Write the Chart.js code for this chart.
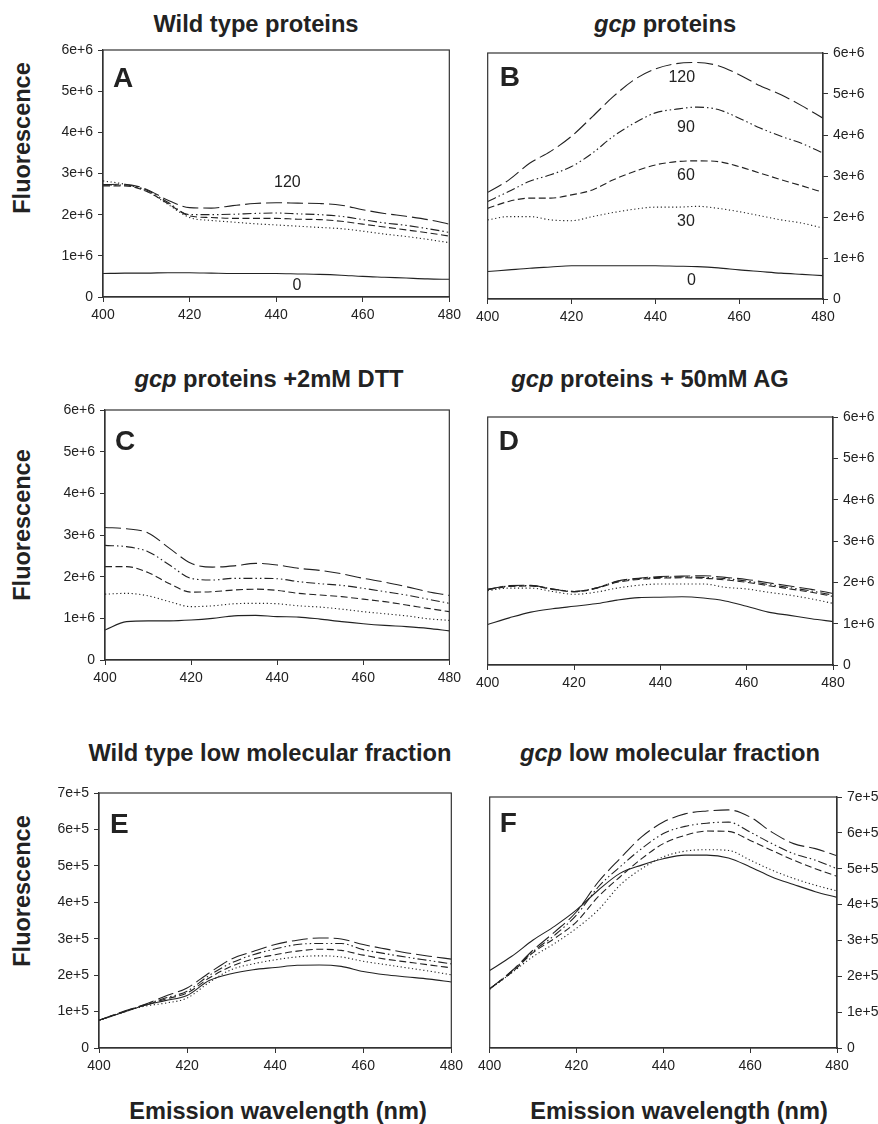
<!DOCTYPE html>
<html><head><meta charset="utf-8">
<script src="https://cdn.jsdelivr.net/npm/chart.js@4/dist/chart.umd.min.js"></script>
<style>
html,body{margin:0;padding:0;background:#fff;width:878px;height:1124px;overflow:hidden;position:relative;font-family:"Liberation Sans",Arial,sans-serif;color:#222}
.t{position:absolute;font-weight:bold;font-size:23.7px;line-height:1;white-space:nowrap;transform:translate(-50%,-50%)}
.yl{position:absolute;font-weight:bold;font-size:23.5px;line-height:1;white-space:nowrap;transform:translate(-50%,-50%) rotate(-90deg)}
.xl{position:absolute;font-weight:bold;font-size:23.6px;line-height:1;white-space:nowrap;transform:translate(-50%,-50%)}
canvas{position:absolute}
</style>
</head><body>
<div class="t" style="left:256px;top:25px">Wild type proteins</div>
<div class="t" style="left:665px;top:25px"><i>gcp</i> proteins</div>
<div class="t" style="left:269px;top:380px"><i>gcp</i> proteins +2mM DTT</div>
<div class="t" style="left:650px;top:380px"><i>gcp</i> proteins + 50mM AG</div>
<div class="t" style="left:270px;top:754px">Wild type low molecular fraction</div>
<div class="t" style="left:670px;top:754px"><i>gcp</i> low molecular fraction</div>
<div class="yl" style="left:23px;top:138px">Fluorescence</div>
<div class="yl" style="left:23px;top:525px">Fluorescence</div>
<div class="yl" style="left:23px;top:891px">Fluorescence</div>
<div class="xl" style="left:278px;top:1112px">Emission wavelength (nm)</div>
<div class="xl" style="left:679px;top:1112px">Emission wavelength (nm)</div>
<canvas id="cA"></canvas><canvas id="cB"></canvas><canvas id="cC"></canvas>
<canvas id="cD"></canvas><canvas id="cE"></canvas><canvas id="cF"></canvas>
<script>
// ---- DATA ----
const wavelengths = [400,405,410,415,420,425,430,435,440,445,450,455,460,465,470,475,480];
const seriesNames = ['0','30','60','90','120'];
const xTickLabels = ['400','420','440','460','480'];
const yTickLabels6 = ['0','1e+6','2e+6','3e+6','4e+6','5e+6','6e+6'];
const yTickLabels7 = ['0','1e+5','2e+5','3e+5','4e+5','5e+5','6e+5','7e+5'];

// Panel A (x1e6)
const A0   = [0.57,0.58,0.58,0.59,0.59,0.58,0.57,0.57,0.57,0.56,0.55,0.53,0.50,0.48,0.46,0.44,0.43];
const A30  = [2.82,2.74,2.58,2.25,1.93,1.86,1.82,1.78,1.75,1.72,1.69,1.66,1.60,1.53,1.47,1.40,1.32];
const A60  = [2.70,2.70,2.57,2.27,1.97,1.93,1.91,1.91,1.91,1.89,1.88,1.84,1.77,1.70,1.63,1.56,1.48];
const A90  = [2.72,2.72,2.60,2.30,2.00,2.00,2.01,2.03,2.04,2.02,2.00,1.96,1.88,1.80,1.74,1.66,1.57];
const A120 = [2.73,2.74,2.62,2.35,2.17,2.16,2.22,2.27,2.29,2.28,2.27,2.23,2.12,2.03,1.96,1.88,1.77];
// Panel B (x1e6)
const B0   = [0.67,0.71,0.75,0.78,0.81,0.81,0.81,0.81,0.81,0.80,0.79,0.76,0.71,0.67,0.63,0.60,0.57];
const B30  = [1.93,2.01,2.01,1.93,1.91,2.01,2.11,2.19,2.24,2.24,2.26,2.21,2.13,2.03,1.93,1.85,1.73];
const B60  = [2.21,2.38,2.46,2.46,2.54,2.66,2.91,3.11,3.27,3.35,3.37,3.35,3.23,3.07,2.91,2.76,2.60];
const B90  = [2.38,2.62,2.87,3.03,3.23,3.56,3.97,4.29,4.54,4.63,4.68,4.62,4.41,4.17,3.97,3.79,3.56];
const B120 = [2.60,2.90,3.31,3.60,3.97,4.45,4.94,5.35,5.61,5.74,5.77,5.69,5.47,5.20,4.98,4.71,4.41];
// Panel C (x1e6)
const C0   = [0.72,0.92,0.94,0.94,0.96,1.00,1.06,1.07,1.04,1.03,0.98,0.92,0.87,0.83,0.80,0.76,0.70];
const C30  = [1.58,1.60,1.54,1.40,1.28,1.30,1.35,1.36,1.35,1.30,1.27,1.22,1.16,1.11,1.06,0.99,0.95];
const C60  = [2.24,2.24,2.10,1.83,1.63,1.64,1.68,1.70,1.67,1.60,1.56,1.52,1.46,1.40,1.32,1.24,1.16];
const C90  = [2.75,2.72,2.60,2.28,1.96,1.92,1.96,1.96,1.95,1.88,1.83,1.79,1.72,1.64,1.56,1.46,1.36];
const C120 = [3.18,3.15,3.05,2.68,2.32,2.23,2.26,2.32,2.28,2.20,2.15,2.07,1.96,1.87,1.76,1.64,1.55];
// Panel D (x1e6)
const D0   = [0.98,1.14,1.28,1.36,1.42,1.48,1.57,1.63,1.64,1.65,1.62,1.55,1.42,1.28,1.20,1.12,1.05];
const D30  = [1.80,1.86,1.86,1.78,1.71,1.76,1.86,1.93,1.96,1.96,1.96,1.88,1.84,1.76,1.69,1.60,1.49];
const D60  = [1.82,1.90,1.91,1.83,1.77,1.85,2.00,2.07,2.10,2.11,2.10,2.06,2.00,1.92,1.84,1.76,1.66];
const D90  = [1.83,1.91,1.92,1.84,1.78,1.86,2.02,2.09,2.12,2.13,2.12,2.09,2.03,1.95,1.87,1.79,1.69];
const D120 = [1.83,1.92,1.93,1.84,1.78,1.86,2.03,2.10,2.14,2.15,2.16,2.12,2.07,1.99,1.91,1.83,1.73];
// Panel E (x1e5)
const E0   = [0.76,0.96,1.16,1.30,1.44,1.85,2.04,2.15,2.21,2.27,2.28,2.24,2.10,2.01,1.95,1.89,1.81];
const E30  = [0.76,0.96,1.14,1.23,1.37,1.80,2.15,2.31,2.42,2.50,2.53,2.50,2.38,2.29,2.20,2.11,2.01];
const E60  = [0.76,0.97,1.16,1.34,1.51,1.92,2.24,2.44,2.56,2.66,2.71,2.68,2.55,2.44,2.36,2.28,2.20];
const E90  = [0.76,0.97,1.17,1.37,1.56,1.99,2.33,2.56,2.72,2.84,2.87,2.87,2.70,2.59,2.49,2.40,2.31];
const E120 = [0.76,0.98,1.18,1.42,1.65,2.06,2.44,2.65,2.84,2.96,3.02,2.99,2.84,2.72,2.61,2.52,2.44];
// Panel F (x1e5)
const F0   = [2.16,2.55,3.01,3.40,3.85,4.40,4.87,5.10,5.28,5.38,5.38,5.30,5.05,4.77,4.56,4.36,4.20];
const F30  = [1.64,2.09,2.55,2.92,3.34,3.85,4.54,5.00,5.33,5.49,5.53,5.51,5.24,4.96,4.73,4.54,4.38];
const F60  = [1.65,2.10,2.66,3.06,3.52,4.22,4.77,5.28,5.70,5.93,6.05,6.04,5.79,5.51,5.24,5.00,4.79];
const F90  = [1.65,2.13,2.69,3.15,3.71,4.49,5.05,5.56,5.98,6.18,6.27,6.30,6.02,5.70,5.42,5.24,5.00];
const F120 = [1.65,2.14,2.73,3.24,3.80,4.63,5.28,5.89,6.30,6.53,6.61,6.64,6.44,6.02,5.70,5.56,5.36];

// inline labels (text, wavelength, value)
const labelsAText = ['120','0'];
const labelsAX = [442.6,444.8];
const labelsAY = [2.77,0.27];
const labelsBText = ['120','90','60','30','0'];
const labelsBX = [446.3,447.3,447.3,447.3,448.6];
const labelsBY = [5.39,4.17,3.00,1.88,0.46];

// ---- STYLE / LAYOUT ----
const dashStyles = [[], [1.2,2.6], [7,3.5], [9,3,1.5,3,1.5,3], [16,5]];
const FONT = '"Liberation Sans", Arial, sans-serif';
const INK = '#222';

const panels = [
  {id:'cA', letter:'A', plot:[103,50,451,297], side:'left', ymax:6, yl:yTickLabels6, series:[A0,A30,A60,A90,A120], lt:labelsAText, lx:labelsAX, ly:labelsAY, ld:[10,17]},
  {id:'cB', letter:'B', plot:[486,53,823,299], side:'right', ymax:6, yl:yTickLabels6, series:[B0,B30,B60,B90,B120], lt:labelsBText, lx:labelsBX, ly:labelsBY, ld:[12,13]},
  {id:'cC', letter:'C', plot:[105,410,451,660], side:'left', ymax:6, yl:yTickLabels6, series:[C0,C30,C60,C90,C120], ld:[10,20]},
  {id:'cD', letter:'D', plot:[486,417,833,665], side:'right', ymax:6, yl:yTickLabels6, series:[D0,D30,D60,D90,D120], ld:[11,13]},
  {id:'cE', letter:'E', plot:[99,793,453,1048], side:'left', ymax:7, yl:yTickLabels7, series:[E0,E30,E60,E90,E120], ld:[11,20]},
  {id:'cF', letter:'F', plot:[488,797,837,1048], side:'right', ymax:7, yl:yTickLabels7, series:[F0,F30,F60,F90,F120], ld:[10,15]}
];

const AX = 60, OTHER = 15, TOP = 15, BOT = 35;

const decorPlugin = {
  id:'decor',
  afterDraw(chart, args, opts){
    const {ctx, chartArea:ca, scales} = chart;
    ctx.save();
    ctx.strokeStyle = '#333'; ctx.lineWidth = 1.2;
    ctx.strokeRect(ca.left, ca.top, ca.right-ca.left, ca.bottom-ca.top);
    ctx.fillStyle = INK;
    ctx.font = 'bold 28px ' + FONT;
    ctx.textAlign = 'left'; ctx.textBaseline = 'alphabetic';
    ctx.fillText(opts.letter, ca.left + opts.ld[0], ca.top + opts.ld[1] + 20);
    if (opts.lt){
      ctx.font = '16px ' + FONT;
      ctx.textAlign = 'center'; ctx.textBaseline = 'middle';
      opts.lt.forEach((t,i)=>{
        ctx.fillText(t, scales.x.getPixelForValue(opts.lx[i]), scales.y.getPixelForValue(opts.ly[i]));
      });
    }
    ctx.restore();
  }
};

panels.forEach(p=>{
  const [l,t,r,b] = p.plot;
  const cv = document.getElementById(p.id);
  const w = (r-l) + AX + OTHER, h = (b-t) + TOP + BOT;
  const left = p.side==='left' ? l-AX : l-OTHER;
  cv.width = w; cv.height = h;
  cv.style.left = left+'px'; cv.style.top = (t-TOP)+'px';
  cv.style.width = w+'px'; cv.style.height = h+'px';
  const datasets = p.series.map((s,i)=>({
    label: seriesNames[i],
    data: wavelengths.map((x,k)=>({x:x, y:s[k]})),
    borderColor: INK, borderWidth: 1.1, borderDash: dashStyles[i],
    pointRadius: 0, fill: false, cubicInterpolationMode: 'monotone'
  }));
  new Chart(cv, {
    type:'line',
    data:{datasets},
    options:{
      responsive:false, animation:false, devicePixelRatio:1,
      layout:{padding:{left:p.side==='left'?0:OTHER, right:p.side==='left'?OTHER:0, top:TOP, bottom:0}},
      plugins:{legend:{display:false}, tooltip:{enabled:false}, title:{display:false},
        decor:{letter:p.letter, ld:p.ld, lt:p.lt, lx:p.lx, ly:p.ly}},
      scales:{
        x:{type:'linear', min:400, max:480, offset:false,
           afterFit(s){ s.height = BOT; },
           ticks:{stepSize:20, color:INK, font:{family:FONT, size:14}, padding:5, maxRotation:0,
                  callback:(v)=>{ const i=(v-400)/20; return xTickLabels[i] ?? ''; }},
           grid:{drawOnChartArea:false, drawTicks:true, tickLength:5, color:'#333', lineWidth:1},
           border:{display:true, color:'#333', width:1.2}},
        y:{type:'linear', position:p.side, min:0, max:p.ymax,
           afterFit(s){ s.width = AX; },
           ticks:{stepSize:1, color:INK, font:{family:FONT, size:14}, padding:5,
                  callback:(v)=> p.yl[v] ?? ''},
           grid:{drawOnChartArea:false, drawTicks:true, tickLength:5, color:'#333', lineWidth:1},
           border:{display:true, color:'#333', width:1.2}}
      }
    },
    plugins:[decorPlugin]
  });
});
</script>
</body></html>
